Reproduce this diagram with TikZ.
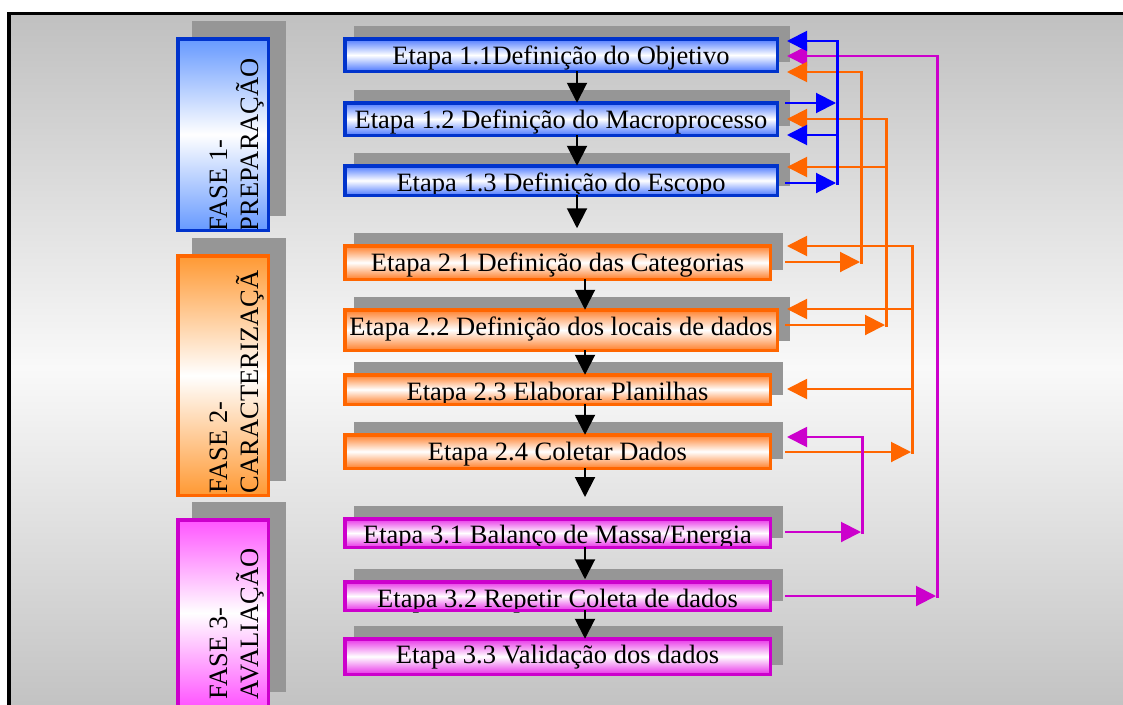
\documentclass[tikz,border=0pt]{standalone}
\usepackage{fontspec}
\setmainfont{Liberation Serif}
\usetikzlibrary{arrows.meta,shadows}

\definecolor{shadowgray}{RGB}{150,150,150}
\definecolor{frameEdge}{RGB}{192,192,192}
\definecolor{frameMid}{RGB}{249,249,249}
\definecolor{bdBlue}{RGB}{0,51,204}
\definecolor{bdOrange}{RGB}{255,102,0}
\definecolor{bdMagenta}{RGB}{204,0,204}
\definecolor{fillBlue}{RGB}{77,121,255}
\definecolor{fillOrange}{RGB}{255,127,42}
\definecolor{fillMagenta}{RGB}{232,50,232}
\definecolor{phBlue}{RGB}{102,153,255}
\definecolor{phOrange}{RGB}{255,153,51}
\definecolor{phMagenta}{RGB}{255,85,255}
\definecolor{lnBlue}{RGB}{0,0,255}
\definecolor{lnOrange}{RGB}{255,102,0}
\definecolor{lnMagenta}{RGB}{204,0,204}

\begin{document}
\begin{tikzpicture}[x=1pt,y=-1pt,
  every node/.style={inner sep=0pt,outer sep=0pt},
  bigfont/.style={font=\fontsize{26.5}{31}\selectfont},
  stepshadow/.style={general shadow={fill=shadowgray,draw=shadowgray,line width=3.5pt,
      shadow xshift=10.5pt,shadow yshift=11pt}},
  phaseshadow/.style={general shadow={fill=shadowgray,draw=shadowgray,line width=3.5pt,
      shadow xshift=16pt,shadow yshift=16pt}},
  stepbox/.style={stepshadow,top color=#1,bottom color=#1,middle color=white,
      minimum width=432.5pt,text height=18pt,text depth=0pt,bigfont},
  narrow/.style={minimum width=425.5pt},
  phasebox/.style={phaseshadow,top color=#1,bottom color=#1,middle color=white,
      minimum width=90.5pt},
  phasetext/.style={rotate=90,anchor=base west,bigfont},
  edge/.style={draw=#1,line width=3.5pt},
  flow/.style={draw=black,line width=2pt,-{Triangle[width=20pt,length=20pt]}},
  link/.style={draw=#1,line width=2pt,-{Triangle[width=20pt,length=20pt]}},
  bus/.style={draw=#1,line width=3pt,line cap=rect},
]
\useasboundingbox (0,0) rectangle (1123,704);
\clip (0,0) rectangle (1123,704);
\fill[white] (0,0) rectangle (1123,704);

% outer frame with soft grey gradient (light in the middle)
\draw[line width=3.5pt,top color=frameEdge,bottom color=frameEdge,middle color=frameMid]
  (9,13.5) rectangle (1140,722);

% phase boxes
\node[phasebox=phBlue,minimum height=191.5pt] (ph1) at (223,134.5) {};
\node[phasebox=phOrange,minimum height=239.5pt] (ph2) at (223,375.5) {};
\node[phasebox=phMagenta,minimum height=186.5pt] (ph3) at (223,613) {};

\node[phasetext] (ph1a) at (227,231) {FASE 1-};
\node[phasetext] (ph1b) at (258,231) {PREPARAÇÃO};
\node[phasetext] (ph2a) at (227,493) {FASE 2-};
\node[phasetext] (ph2b) at (258,493) {CARACTERIZAÇÃ};
\node[phasetext] (ph3a) at (227,699) {FASE 3-};
\node[phasetext] (ph3b) at (258,699) {AVALIAÇÃO};

\draw[edge=bdBlue] (ph1.south west) rectangle (ph1.north east);
\draw[edge=bdOrange] (ph2.south west) rectangle (ph2.north east);
\draw[edge=bdMagenta] (ph3.south west) rectangle (ph3.north east);

% step boxes
\node[stepbox=fillBlue,minimum height=32.5pt] (s11) at (561,55) {Etapa 1.1Definição do Objetivo};
\node[stepbox=fillBlue,minimum height=32.5pt] (s12) at (561,119) {Etapa 1.2 Definição do Macroprocesso};
\node[stepbox=fillBlue,minimum height=29.5pt,text height=21pt] (s13) at (561,180.5) {Etapa 1.3 Definição do Escopo};
\node[stepbox=fillOrange,narrow,minimum height=33.5pt,text height=17pt] (s21) at (557.5,262.5) {Etapa 2.1 Definição das Categorias};
\node[stepbox=fillOrange,minimum height=40.5pt,text height=10pt] (s22) at (561,330) {Etapa 2.2 Definição dos locais de dados};
\node[stepbox=fillOrange,narrow,minimum height=29.5pt,text height=21pt] (s23) at (557.5,389.5) {Etapa 2.3 Elaborar Planilhas};
\node[stepbox=fillOrange,narrow,minimum height=33.5pt,text height=17pt] (s24) at (557.5,451.5) {Etapa 2.4 Coletar Dados};
\node[stepbox=fillMagenta,narrow,minimum height=28.5pt,text height=20pt] (s31) at (557.5,533) {Etapa 3.1 Balanço de Massa/Energia};
\node[stepbox=fillMagenta,narrow,minimum height=28.5pt,text height=22pt] (s32) at (557.5,596) {Etapa 3.2 Repetir Coleta de dados};
\node[stepbox=fillMagenta,narrow,minimum height=35.5pt,text height=13pt] (s33) at (557.5,656.5) {Etapa 3.3 Validação dos dados};

% borders drawn over the text so that descenders are trimmed
\foreach \n in {s11,s12,s13} \draw[edge=bdBlue] (\n.south west) rectangle (\n.north east);
\foreach \n in {s21,s22,s23,s24} \draw[edge=bdOrange] (\n.south west) rectangle (\n.north east);
\foreach \n in {s31,s32,s33} \draw[edge=bdMagenta] (\n.south west) rectangle (\n.north east);

% main sequence
\coordinate (colA) at (577,0);
\coordinate (colB) at (585,0);
\draw[flow] (s11.south -| colA) -- (s12.north -| colA);
\draw[flow] (s12.south -| colA) -- (s13.north -| colA);
\draw[flow,shorten >=17.5pt] (s13.south -| colA) -- (s21.north -| colA);
\draw[flow] (s21.south -| colB) -- (s22.north -| colB);
\draw[flow] (s22.south -| colB) -- (s23.north -| colB);
\draw[flow] (s23.south -| colB) -- (s24.north -| colB);
\draw[flow,shorten >=21.75pt] (s24.south -| colB) -- (s31.north -| colB);
\draw[flow,shorten >=2.5pt] (s31.south -| colB) -- (s32.north -| colB);
\draw[flow] (s32.south -| colB) -- (s33.north -| colB);

% feedback loops on the right
\coordinate (tip) at (787,0);
\coordinate (tail) at (785,0);

% magenta: 3.2 -> 1.1
\coordinate (mA1) at (937,56);
\coordinate (mA2) at (937,596);
\draw[bus=lnMagenta] (mA1) -- (mA2);
\draw[link=lnMagenta] (mA1) -- (mA1 -| tip);
\draw[link=lnMagenta,shorten >=1pt] (mA2 -| tail) -- (mA2);

% orange: 2.1 -> 1.1
\coordinate (oA1) at (861,72);
\coordinate (oA2) at (861,262);
\draw[bus=lnOrange] (oA1) -- (oA2);
\draw[link=lnOrange] (oA1) -- (oA1 -| tip);
\draw[link=lnOrange,shorten >=1pt] (oA2 -| tail) -- (oA2);

% orange: 2.2 -> 1.2, 1.3
\coordinate (oB1) at (886,119);
\coordinate (oB2) at (886,167);
\coordinate (oB3) at (886,325);
\draw[bus=lnOrange] (oB1) -- (oB3);
\draw[link=lnOrange] (oB1) -- (oB1 -| tip);
\draw[link=lnOrange] (oB2) -- (oB2 -| tip);
\draw[link=lnOrange,shorten >=1pt] (oB3 -| tail) -- (oB3);

% orange: 2.4 -> 2.1, 2.2, 2.3
\coordinate (oC1) at (912,246);
\coordinate (oC2) at (912,309);
\coordinate (oC3) at (912,389);
\coordinate (oC4) at (912,452);
\draw[bus=lnOrange] (oC1) -- (oC4);
\draw[link=lnOrange] (oC1) -- (oC1 -| tip);
\draw[link=lnOrange] (oC2) -- (oC2 -| tip);
\draw[link=lnOrange] (oC3) -- (oC3 -| tip);
\draw[link=lnOrange,shorten >=1pt] (oC4 -| tail) -- (oC4);

% magenta: 3.1 -> 2.4
\coordinate (mB1) at (862,437);
\coordinate (mB2) at (862,532);
\draw[bus=lnMagenta] (mB1) -- (mB2);
\draw[link=lnMagenta] (mB1) -- (mB1 -| tip);
\draw[link=lnMagenta,shorten >=1pt] (mB2 -| tail) -- (mB2);

% blue: 1.2 -> 1.1 and 1.3 -> 1.2
\coordinate (bA1) at (837,41);
\coordinate (bA2) at (837,103);
\coordinate (bA3) at (837,135);
\coordinate (bA4) at (837,183);
\draw[bus=lnBlue] (bA1) -- (bA4);
\draw[link=lnBlue] (bA1) -- (bA1 -| tip);
\draw[link=lnBlue,shorten >=1pt] (bA2 -| tail) -- (bA2);
\draw[link=lnBlue] (bA3) -- (bA3 -| tip);
\draw[link=lnBlue,shorten >=1pt] (bA4 -| tail) -- (bA4);
\end{tikzpicture}
\end{document}
